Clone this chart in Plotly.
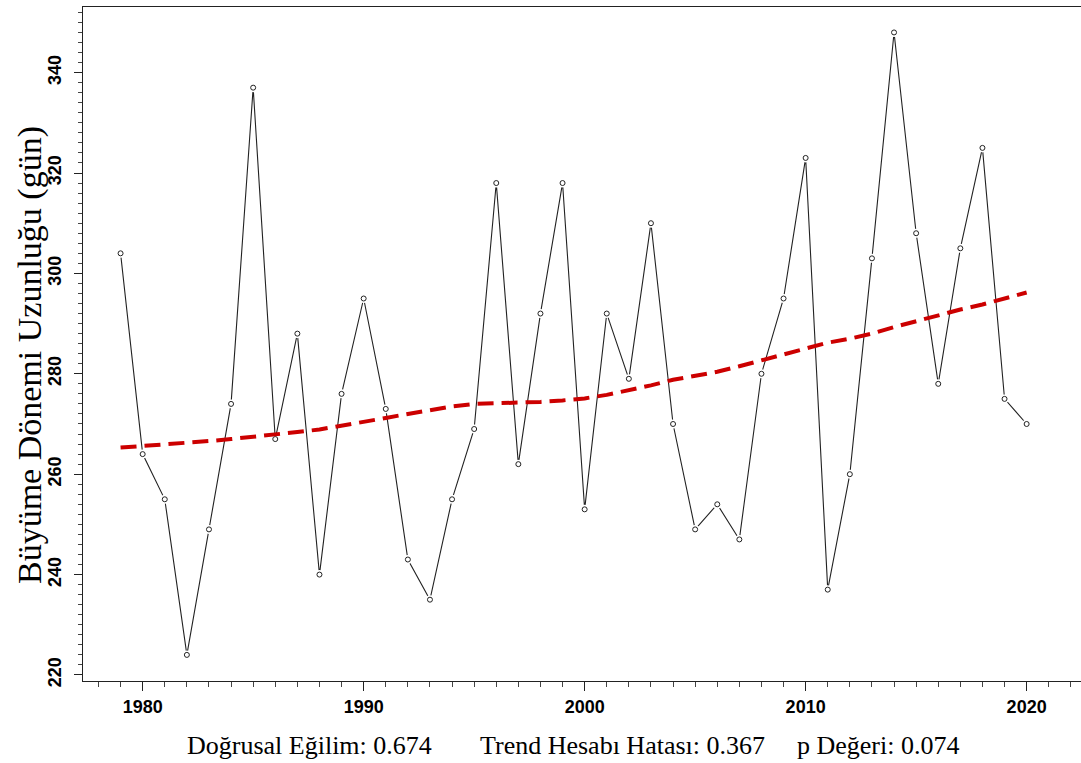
import plotly.graph_objects as go

years = list(range(1979, 2021))
season_length = [304, 264, 255, 224, 249, 274, 337, 267, 288, 240, 276, 295,
                 273, 243, 235, 255, 269, 318, 262, 292, 318, 253, 292, 279,
                 310, 270, 249, 254, 247, 280, 295, 323, 237, 260, 303, 348,
                 308, 278, 305, 325, 275, 270]
trend = [265.3, 265.6, 266.0, 266.3, 266.6, 267.0, 267.4, 267.8, 268.4, 268.9,
         269.6, 270.4, 271.2, 272.0, 272.8, 273.5, 274.0, 274.1, 274.2, 274.4,
         274.7, 275.1, 275.8, 276.7, 277.7, 278.8, 279.6, 280.4, 281.5, 282.7,
         284.0, 285.2, 286.2, 287.0, 288.0, 289.3, 290.5, 291.7, 292.8, 293.8,
         295.0, 296.2]
y_title = "Büyüme Dönemi Uzunluğu (gün)"
stats = ["Doğrusal Eğilim: 0.674", "Trend Hesabı Hatası: 0.367", "p Değeri: 0.074"]

W, H = 1081, 763
L, R, T, B = 83, 0, 7, 82
pw, ph = W - L - R, H - T - B

fig = go.Figure()
fig.add_trace(go.Scatter(x=years, y=season_length, mode="lines",
                         line=dict(color="#222222", width=1.1), hoverinfo="skip"))
fig.add_trace(go.Scatter(x=years, y=season_length, mode="markers",
                         marker=dict(symbol="circle", size=9, color="white",
                                     line=dict(width=0)), hoverinfo="skip"))
fig.add_trace(go.Scatter(x=years, y=season_length, mode="markers",
                         marker=dict(symbol="circle", size=5, color="white",
                                     line=dict(color="#222222", width=1))))
fig.add_trace(go.Scatter(x=years, y=trend, mode="lines",
                         line=dict(color="#cc0000", width=4, dash="16px,8px")))

serif = "Liberation Serif, Times New Roman, serif"
sans = "Liberation Sans, Arial, sans-serif"

fig.update_layout(
    width=W, height=H, showlegend=False,
    margin=dict(l=L, r=R, t=T, b=B),
    paper_bgcolor="white", plot_bgcolor="white",
    xaxis=dict(range=[1977.3, 2022.46], showgrid=False, zeroline=False,
               showline=True, linecolor="#222222", linewidth=1, mirror=True,
               ticks="outside", ticklen=9, tickwidth=1, tickcolor="#222222",
               tick0=1980, dtick=10,
               minor=dict(ticks="outside", ticklen=5, dtick=1, tick0=1980,
                          tickcolor="#444444", showgrid=False),
               tickfont=dict(family=sans, size=18, color="black", weight="bold")),
    yaxis=dict(range=[218.8, 353.07], showgrid=False, zeroline=False,
               showline=True, linecolor="#222222", linewidth=1,
               ticks="outside", ticklen=8, tickwidth=1, tickcolor="#222222",
               tick0=220, dtick=20, tickangle=-90, ticklabelstandoff=6,
               minor=dict(ticks="outside", ticklen=4, dtick=2, tick0=220,
                          tickcolor="#444444", showgrid=False),
               tickfont=dict(family=sans, size=18, color="black", weight="bold")),
)

fig.add_annotation(text=y_title, xref="paper", yref="paper",
                   x=(30 - L) / pw, y=(T + ph - 355) / ph,
                   xanchor="center", yanchor="middle", textangle=-90,
                   showarrow=False, font=dict(family=serif, size=34, color="black"))

for txt, px in zip(stats, [185, 478, 795]):
    fig.add_annotation(text=txt, xref="paper", yref="paper",
                       x=(px - L) / pw, y=(T + ph - 745) / ph,
                       xanchor="left", yanchor="middle", showarrow=False,
                       font=dict(family=serif, size=26, color="black"))

fig.write_html("out.html", config={"displayModeBar": False},
               post_script="document.body.style.margin='0';document.body.style.overflow='hidden';")
